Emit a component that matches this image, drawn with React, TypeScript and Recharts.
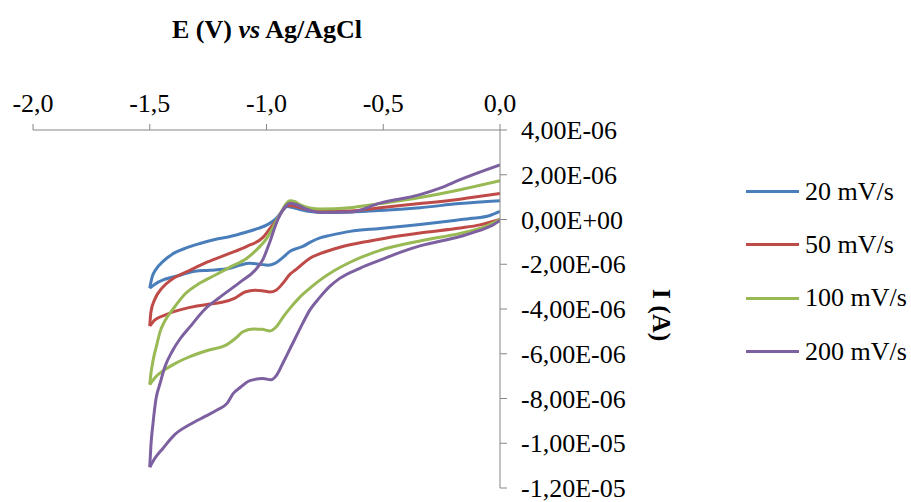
import { LineChart, Line, XAxis, YAxis } from "recharts";

// Cyclic voltammograms, potential in V, current in µA (axis labels show A)
const SERIES_NAMES = ["20 mV/s", "50 mV/s", "100 mV/s", "200 mV/s"];
const COLORS = ["#4A7EBB", "#BE4B48", "#98B954", "#7D60A0"];

const X_TICKS = [-2, -1.5, -1, -0.5, 0];
const Y_TICKS = [-12, -10, -8, -6, -4, -2, 0, 2, 4];

// [E, I] pairs, cathodic scan from 0 V to -1.5 V, then back to 0 V
const CV_20 = [
  [0, 0.36], [-0.043, 0.18], [-0.128, 0.04], [-0.214, -0.07], [-0.343, -0.22],
  [-0.428, -0.31], [-0.514, -0.4], [-0.642, -0.53], [-0.728, -0.71], [-0.771, -0.82],
  [-0.814, -1.02], [-0.844, -1.2], [-0.869, -1.29], [-0.899, -1.42], [-0.929, -1.69],
  [-0.964, -1.96], [-0.994, -2.04], [-1.028, -2.0], [-1.071, -1.96], [-1.113, -2.04],
  [-1.156, -2.18], [-1.242, -2.27], [-1.306, -2.31], [-1.37, -2.49], [-1.435, -2.67],
  [-1.478, -2.89], [-1.5, -3.07],
  [-1.49, -2.58], [-1.473, -2.22], [-1.443, -1.87], [-1.405, -1.56], [-1.349, -1.29],
  [-1.285, -1.07], [-1.221, -0.89], [-1.156, -0.76], [-1.092, -0.58], [-1.036, -0.4],
  [-0.994, -0.22], [-0.959, 0.04], [-0.934, 0.36], [-0.912, 0.58], [-0.887, 0.53],
  [-0.857, 0.44], [-0.792, 0.33], [-0.728, 0.31], [-0.642, 0.33], [-0.514, 0.4],
  [-0.343, 0.53], [-0.171, 0.71], [0, 0.84],
];

const CV_50 = [
  [0, 0], [-0.086, -0.24], [-0.171, -0.38], [-0.343, -0.6], [-0.428, -0.73],
  [-0.557, -0.96], [-0.685, -1.24], [-0.771, -1.53], [-0.814, -1.73], [-0.857, -2.09],
  [-0.878, -2.27], [-0.899, -2.44], [-0.929, -2.84], [-0.959, -3.16], [-0.985, -3.24],
  [-1.019, -3.18], [-1.049, -3.16], [-1.092, -3.24], [-1.135, -3.51], [-1.186, -3.69],
  [-1.242, -3.78], [-1.298, -3.87], [-1.37, -4.04], [-1.435, -4.27], [-1.478, -4.49],
  [-1.5, -4.76],
  [-1.495, -4.13], [-1.478, -3.56], [-1.448, -3.07], [-1.405, -2.67], [-1.328, -2.27],
  [-1.255, -1.91], [-1.169, -1.56], [-1.084, -1.2], [-1.015, -0.8], [-0.985, -0.4],
  [-0.955, 0], [-0.934, 0.36], [-0.912, 0.62], [-0.891, 0.62], [-0.857, 0.53],
  [-0.771, 0.38], [-0.642, 0.38], [-0.514, 0.53], [-0.343, 0.71], [-0.171, 0.91],
  [0, 1.16],
];

const CV_100 = [
  [0, 0], [-0.086, -0.4], [-0.171, -0.62], [-0.343, -0.96], [-0.514, -1.38],
  [-0.642, -1.91], [-0.707, -2.27], [-0.771, -2.71], [-0.814, -3.07], [-0.857, -3.47],
  [-0.899, -3.96], [-0.929, -4.36], [-0.955, -4.76], [-0.985, -4.98], [-1.019, -4.91],
  [-1.058, -4.89], [-1.101, -5.02], [-1.135, -5.33], [-1.178, -5.64], [-1.242, -5.82],
  [-1.328, -6.13], [-1.392, -6.44], [-1.435, -6.71], [-1.478, -7.07], [-1.5, -7.38],
  [-1.495, -6.89], [-1.486, -6.31], [-1.469, -5.56], [-1.456, -5.02], [-1.435, -4.53],
  [-1.4, -4.0], [-1.349, -3.33], [-1.285, -2.84], [-1.221, -2.49], [-1.156, -2.13],
  [-1.084, -1.73], [-1.028, -1.2], [-1.002, -0.89], [-0.981, -0.53], [-0.955, 0],
  [-0.938, 0.31], [-0.916, 0.71], [-0.899, 0.84], [-0.878, 0.8], [-0.857, 0.67],
  [-0.771, 0.47], [-0.642, 0.53], [-0.514, 0.71], [-0.343, 0.98], [-0.171, 1.33],
  [0, 1.73],
];

const CV_200 = [
  [0, -0.04], [-0.043, -0.31], [-0.086, -0.49], [-0.171, -0.76], [-0.343, -1.18],
  [-0.428, -1.47], [-0.514, -1.82], [-0.6, -2.18], [-0.685, -2.62], [-0.728, -2.98],
  [-0.771, -3.47], [-0.814, -4.04], [-0.844, -4.62], [-0.878, -5.33], [-0.908, -5.96],
  [-0.929, -6.4], [-0.955, -6.93], [-0.981, -7.16], [-1.015, -7.11], [-1.071, -7.2],
  [-1.113, -7.51], [-1.143, -7.78], [-1.169, -8.22], [-1.208, -8.49], [-1.263, -8.8],
  [-1.328, -9.16], [-1.392, -9.6], [-1.443, -10.22], [-1.478, -10.67], [-1.5, -11.07],
  [-1.495, -10.09], [-1.486, -9.11], [-1.473, -8.0], [-1.456, -7.33], [-1.435, -6.58],
  [-1.405, -5.91], [-1.37, -5.33], [-1.328, -4.8], [-1.263, -4.0], [-1.199, -3.47],
  [-1.113, -2.8], [-1.049, -2.27], [-1.015, -1.78], [-0.985, -0.98], [-0.955, -0.09],
  [-0.929, 0.44], [-0.899, 0.73], [-0.874, 0.67], [-0.835, 0.49], [-0.771, 0.31],
  [-0.642, 0.33], [-0.514, 0.73], [-0.343, 1.11], [-0.257, 1.4], [-0.171, 1.78],
  [0, 2.44],
];

const CURVES = [CV_20, CV_50, CV_100, CV_200];

const FONT = "Liberation Serif, DejaVu Serif, serif";

const fmtX = (v: number) => v.toFixed(1).replace(".", ",");

const fmtY = (v: number) => {
  if (v === 0) return "0,00E+00";
  const [m, e] = (v * 1e-6).toExponential(2).split("e");
  const n = parseInt(e, 10);
  const exp = (n < 0 ? "-" : "+") + String(Math.abs(n)).padStart(2, "0");
  return m.replace(".", ",") + "E" + exp;
};

// split each loop at the switching potential so both branches run left to right
function branches(curve: number[][]) {
  const pts = curve.map(([E, I]) => ({ E, I }));
  let tip = 0;
  pts.forEach((p, i) => {
    if (p.E < pts[tip].E) tip = i;
  });
  return [pts.slice(0, tip + 1).reverse(), pts.slice(tip)];
}

export default function App() {
  return (
    <div
      style={{
        position: "absolute",
        left: 0,
        top: 0,
        width: 911,
        height: 502,
        background: "#fff",
        fontFamily: FONT,
        overflow: "hidden",
      }}
    >
      <div
        style={{
          position: "absolute",
          left: 267,
          top: 30,
          transform: "translate(-50%, -50%)",
          fontSize: 26,
          fontWeight: "bold",
          whiteSpace: "nowrap",
        }}
      >
        E (V) <i>vs</i> Ag/AgCl
      </div>
      <div
        style={{
          position: "absolute",
          left: 661,
          top: 315,
          transform: "translate(-50%, -50%) rotate(90deg)",
          fontSize: 26,
          fontWeight: "bold",
          whiteSpace: "nowrap",
        }}
      >
        I (A)
      </div>
      <div style={{ position: "absolute", left: 746, top: 165 }}>
        {SERIES_NAMES.map((name, i) => (
          <div key={name} style={{ display: "flex", alignItems: "center", height: 53.3 }}>
            <div style={{ width: 53, height: 3, background: COLORS[i], marginRight: 6 }} />
            <span style={{ fontSize: 26, lineHeight: "30px" }}>{name}</span>
          </div>
        ))}
      </div>
      <LineChart
        width={911}
        height={502}
        margin={{ top: 100, right: 291, bottom: 14, left: 33 }}
        style={{ position: "absolute", left: 0, top: 0 }}
      >
        <XAxis
          type="number"
          dataKey="E"
          orientation="top"
          domain={[-2, 0]}
          ticks={X_TICKS}
          interval={0}
          tickFormatter={fmtX}
          height={30}
          tickSize={6}
          tickMargin={12}
          stroke="#868686"
          tick={{ fill: "#000", fontSize: 26, fontFamily: FONT }}
          allowDataOverflow
        />
        <YAxis
          type="number"
          orientation="right"
          domain={[-12, 4]}
          ticks={Y_TICKS}
          interval={0}
          tickFormatter={fmtY}
          width={120}
          tickSize={7}
          tickMargin={14}
          stroke="#868686"
          tick={{ fill: "#000", fontSize: 26, fontFamily: FONT, textAnchor: "start" }}
          allowDataOverflow
        />
        {CURVES.flatMap((c, i) =>
          branches(c).map((d, j) => (
            <Line
              key={SERIES_NAMES[i] + j}
              data={d}
              dataKey="I"
              name={SERIES_NAMES[i]}
              type="monotone"
              stroke={COLORS[i]}
              strokeWidth={3}
              dot={false}
              activeDot={false}
              isAnimationActive={false}
            />
          )),
        )}
      </LineChart>
    </div>
  );
}
